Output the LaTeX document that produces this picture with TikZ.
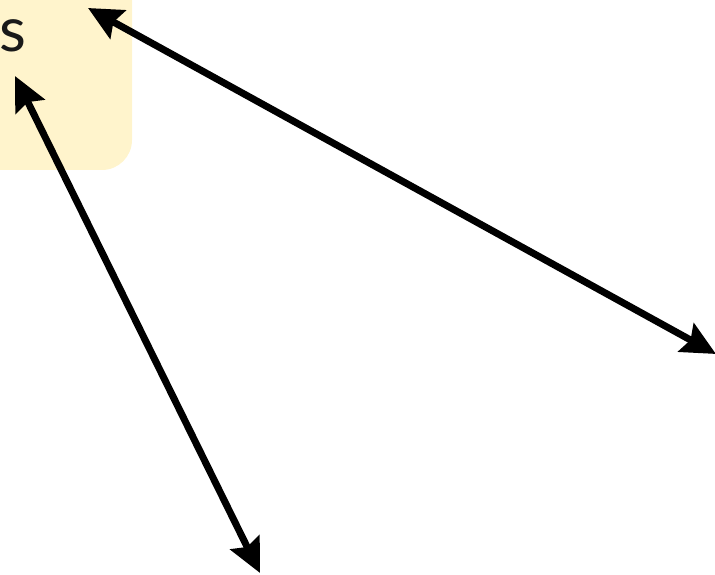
\documentclass[tikz,border=0pt]{standalone}
\usepackage{fontspec}
\setmainfont{Lato}
\usetikzlibrary{arrows.meta,positioning}
\definecolor{notefill}{HTML}{FFF4CC}

\begin{document}
\begin{tikzpicture}[x=1pt, y=-1pt,
  note/.style ={fill=notefill, draw=none, rounded corners=30pt},
  lbl/.style  ={font=\fontsize{62}{66}\selectfont, inner sep=0pt, text=black!90},
  link/.style ={line width=7pt, {Stealth[length=34pt,width=32pt,inset=5pt]}-{Stealth[length=34pt,width=32pt,inset=5pt]}}]

  \useasboundingbox (0,0) rectangle (715,575);
  \clip (0,0) rectangle (715,575);

  % ---------------- note box (cut by the frame) ----------------
  \fill[note] (-200,-100) rectangle (132,170);
  \node[lbl, anchor=base west] (word) at (-1,52) {s};

  % ---------------- arrow ends ----------------
  \coordinate (topA) at (88,8);
  \coordinate (endA) at (716,354);
  \coordinate (topB) at (15,76);
  \coordinate (endB) at (260,573);

  % ---------------- links ----------------
  \draw[link] (topA) -- (endA);
  \draw[link] (topB) -- (endB);
\end{tikzpicture}
\end{document}
